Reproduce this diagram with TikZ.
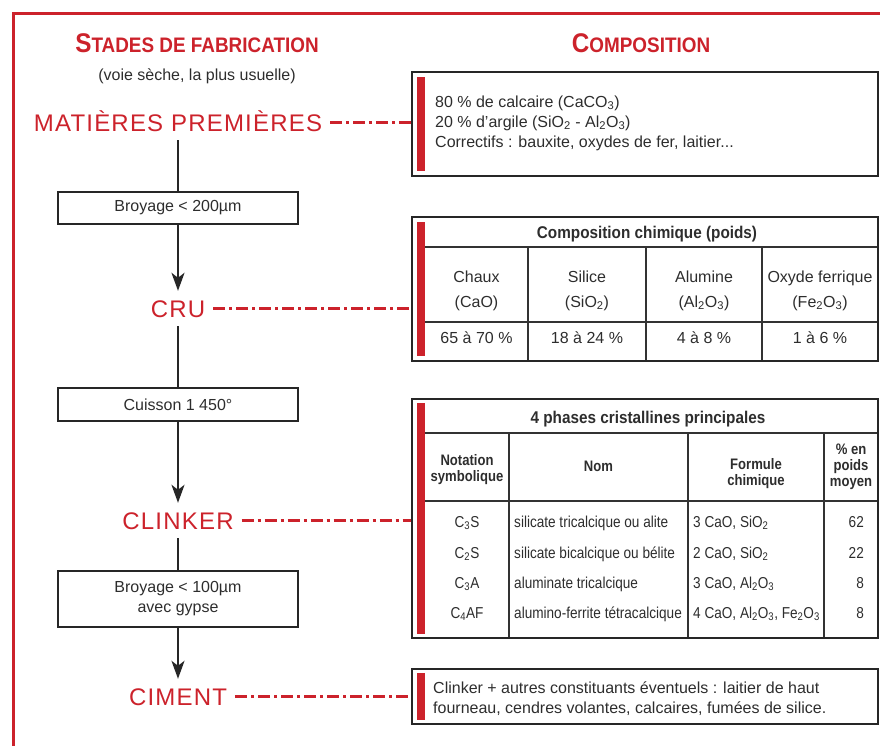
\documentclass[tikz,border=0pt]{standalone}
\usepackage{fontspec}
\setmainfont{Liberation Sans}
\newfontfamily\headfont[FakeStretch=0.9]{Liberation Sans}
\newfontfamily\narrowfont[FakeStretch=0.86]{Liberation Sans}
\newfontfamily\stagefont[LetterSpace=5]{Liberation Sans}
\usetikzlibrary{arrows.meta}
\definecolor{cimred}{RGB}{204,34,43}
\definecolor{ink}{RGB}{45,45,45}

\begin{document}
\begin{tikzpicture}[x=1pt,y=-1pt,
  stage/.style={text=cimred, font=\stagefont\fontsize{24}{28}\selectfont,
    inner sep=0pt, text height=17.2pt, text depth=0pt,
    outer xsep=8pt, outer ysep=9pt, anchor=base},
  heading/.style={text=cimred, anchor=base, inner sep=0pt},
  body/.style={text=ink, font=\fontsize{16}{20}\selectfont, inner sep=0pt},
  small/.style={text=ink, font=\narrowfont\fontsize{15.8}{18}\selectfont, inner sep=0pt},
  colhead/.style={text=ink, font=\narrowfont\bfseries\fontsize{15.2}{16}\selectfont,
    inner sep=0pt, align=center},
  tabtitle/.style={text=ink, font=\headfont\bfseries\fontsize{17}{20}\selectfont,
    inner sep=0pt, anchor=base},
  stepbox/.style={draw=black!85, line width=2pt, minimum width=240pt,
    align=center, text=ink, font=\fontsize{16}{20}\selectfont, inner sep=0pt},
  flow/.style={draw=black!85, line width=2.2pt},
  flowarrow/.style={flow, -{Stealth[length=18pt,width=13pt,inset=5pt]}},
  link/.style={draw=cimred, line width=2.5pt,
    dash pattern=on 12pt off 4pt on 3pt off 4pt},
  panel/.style={draw=black!85, line width=2.2pt, minimum width=466pt},
  redbar/.style={fill=cimred},
  grid/.style={draw=black!80, line width=1.3pt}
]
\useasboundingbox (0,0) rectangle (880,745);
\clip (0,0) rectangle (880,745);

% outer frame
\draw[cimred, line width=3pt] (13,760) -- (13,13) -- (895,13);

% column headings
\node[heading] (stades) at (197,52)
  {\headfont\bfseries\fontsize{27}{30}\selectfont S\fontsize{21}{24}\selectfont TADES DE FABRICATION};
\node[body, anchor=base] (voie) at (197,80) {(voie sèche, la plus usuelle)};
\node[heading] (compo) at (641,52)
  {\headfont\bfseries\fontsize{27}{30}\selectfont C\fontsize{21}{24}\selectfont OMPOSITION};

% production stages
\node[stage] (mp) at (178,131) {MATIÈRES PREMIÈRES};
\node[stepbox, minimum height=32pt] (broy1) at (178,208) {Broyage < 200µm};
\node[stage] (cru) at (178,317) {CRU};
\node[stepbox, minimum height=33pt] (cuis) at (178,404.5) {Cuisson 1 450°};
\node[stage] (clk) at (178,529) {CLINKER};
\node[stepbox, minimum height=56pt] (broy2) at (178,599) {Broyage < 100µm\\avec gypse};
\node[stage] (cim) at (178,705) {CIMENT};

\draw[flow] (mp.south) -- (broy1.north);
\draw[flowarrow] (broy1.south) -- (cru.north);
\draw[flow] (cru.south) -- (cuis.north);
\draw[flowarrow] (cuis.south) -- (clk.north);
\draw[flow] (clk.south) -- (broy2.north);
\draw[flowarrow] (broy2.south) -- (cim.north);

% raw materials panel
\node[panel, minimum height=104pt] (raw) at (645,124) {};
\fill[redbar] (417,77) rectangle (425,171);
\node[body, anchor=base west] (raw1) at (435,107) {80 \% de calcaire (CaCO\textsubscript{3})};
\node[body, anchor=base west] (raw2) at (435,127) {20 \% d'argile (SiO\textsubscript{2} - Al\textsubscript{2}O\textsubscript{3})};
\node[body, anchor=base west] (raw3) at (435,147) {Correctifs : bauxite, oxydes de fer, laitier...};

% raw meal composition table
\node[panel, minimum height=144pt] (crutab) at (645,289) {};
\fill[redbar] (417,222) rectangle (425,356);
\draw[grid] (425,247) -- (877,247);
\draw[grid] (425,322) -- (877,322);
\foreach \cx in {528,646,762} \draw[grid] (\cx,247) -- (\cx,360);
\node[tabtitle] (crutitle) at (647,238) {Composition chimique (poids)};
\node[body, anchor=base] (c1a) at (476.5,282) {Chaux};
\node[body, anchor=base] (c1b) at (476.5,307) {(CaO)};
\node[body, anchor=base] (c2a) at (587,282) {Silice};
\node[body, anchor=base] (c2b) at (587,307) {(SiO\textsubscript{2})};
\node[body, anchor=base] (c3a) at (704,282) {Alumine};
\node[body, anchor=base] (c3b) at (704,307) {(Al\textsubscript{2}O\textsubscript{3})};
\node[body, anchor=base] (c4a) at (820,282) {Oxyde ferrique};
\node[body, anchor=base] (c4b) at (820,307) {(Fe\textsubscript{2}O\textsubscript{3})};
\node[body, anchor=base] (c1v) at (476.5,343) {65 à 70 \%};
\node[body, anchor=base] (c2v) at (587,343) {18 à 24 \%};
\node[body, anchor=base] (c3v) at (704,343) {4 à 8 \%};
\node[body, anchor=base] (c4v) at (820,343) {1 à 6 \%};

% clinker phases table
\node[panel, minimum height=239pt] (clktab) at (645,518.5) {};
\fill[redbar] (417,403) rectangle (425,634);
\draw[grid] (425,433) -- (877,433);
\draw[grid] (425,501) -- (877,501);
\foreach \cx in {509,688,824} \draw[grid] (\cx,433) -- (\cx,637);
\node[tabtitle] (clktitle) at (648,423) {4 phases cristallines principales};
\node[colhead] (h1) at (467,470) {Notation\\symbolique};
\node[colhead, anchor=base] (h2) at (598.5,471) {Nom};
\node[colhead] (h3) at (756,474) {Formule\\chimique};
\node[colhead] (h4) at (851,467) {\% en\\poids\\moyen};
\node[small, anchor=base] (n1) at (467,527) {C\textsubscript{3}S};
\node[small, anchor=base] (n2) at (467,558) {C\textsubscript{2}S};
\node[small, anchor=base] (n3) at (467,588) {C\textsubscript{3}A};
\node[small, anchor=base] (n4) at (467,618) {C\textsubscript{4}AF};
\node[small, anchor=base west] (m1) at (514,527) {silicate tricalcique ou alite};
\node[small, anchor=base west] (m2) at (514,558) {silicate bicalcique ou bélite};
\node[small, anchor=base west] (m3) at (514,588) {aluminate tricalcique};
\node[small, anchor=base west] (m4) at (514,618) {alumino-ferrite tétracalcique};
\node[small, anchor=base west] (f1) at (693,527) {3 CaO, SiO\textsubscript{2}};
\node[small, anchor=base west] (f2) at (693,558) {2 CaO, SiO\textsubscript{2}};
\node[small, anchor=base west] (f3) at (693,588) {3 CaO, Al\textsubscript{2}O\textsubscript{3}};
\node[small, anchor=base west] (f4) at (693,618) {4 CaO, Al\textsubscript{2}O\textsubscript{3}, Fe\textsubscript{2}O\textsubscript{3}};
\node[small, anchor=base east] (p1) at (864,527) {62};
\node[small, anchor=base east] (p2) at (864,558) {22};
\node[small, anchor=base east] (p3) at (864,588) {8};
\node[small, anchor=base east] (p4) at (864,618) {8};

% cement panel
\node[panel, minimum height=55pt] (cem) at (645,696.5) {};
\fill[redbar] (417,673) rectangle (425,720);
\node[body, anchor=base west] (cem1) at (433,693) {Clinker + autres constituants éventuels : laitier de haut};
\node[body, anchor=base west] (cem2) at (433,713) {fourneau, cendres volantes, calcaires, fumées de silice.};

% dash-dot links between stages and compositions
\draw[link] (mp.east) -- (mp.east -| raw.west);
\draw[link] (cru.east) -- (cru.east -| crutab.west);
\draw[link] (clk.east) -- (clk.east -| clktab.west);
\draw[link] (cim.east) -- (cim.east -| cem.west);
\end{tikzpicture}
\end{document}
